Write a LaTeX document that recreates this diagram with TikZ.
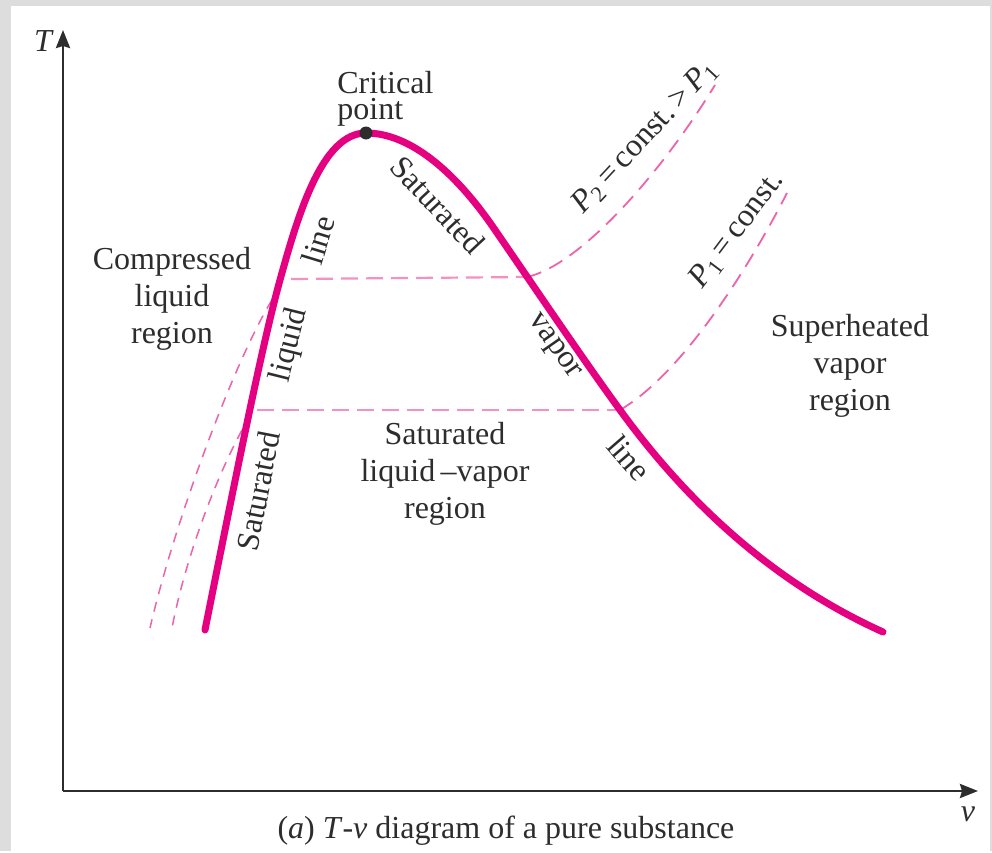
\documentclass[tikz,border=0pt]{standalone}
\usepackage{fontspec}
\setmainfont{Liberation Serif}
\usetikzlibrary{arrows.meta}
\definecolor{domepink}{RGB}{228,0,128}
\definecolor{isopink}{RGB}{236,100,170}
\definecolor{isolight}{RGB}{243,145,195}
\definecolor{framegray}{RGB}{221,221,221}
\definecolor{inkgray}{RGB}{45,45,45}

\begin{document}
\begin{tikzpicture}[
  x=0.5pt, y=-0.5pt,
  font=\fontsize{16}{18.5}\selectfont,
  every node/.style={text=inkgray},
  axis/.style={draw=inkgray, line width=1.2pt, -{Stealth[length=9pt, width=7pt, inset=1pt]}},
  dome/.style={draw=domepink, line width=3.5pt, line cap=round},
  iso/.style={draw=isopink, line width=0.9pt, dash pattern=on 7.5pt off 4.5pt},
  tie/.style={draw=isolight, line width=1.1pt, dash pattern=on 8.5pt off 4pt},
  sub/.style={draw=isopink, line width=0.75pt, dash pattern=on 5pt off 4pt},
  region/.style={align=center, inner sep=0pt},
  along/.style={inner sep=0pt},
]
  % frame
  \fill[framegray] (0,0) rectangle (992,851);
  \fill[white] (11,6) rectangle (990,851);

  % axes
  \coordinate (O) at (63,791);
  \coordinate (Ttip) at (63,30);
  \coordinate (vtip) at (978,791);
  \draw[axis] (O) -- (Ttip);
  \draw[axis] (O) -- (vtip);
  \node (Tlab) at (44,41) {\textit{T}};
  \node (vlab) at (968,814) {\textit{v}};

  % points on the saturation dome
  \coordinate (fb) at (205,630);
  \coordinate (f2) at (280,280);
  \coordinate (cp) at (366,133);
  \coordinate (gm) at (493,227);
  \coordinate (g1) at (620,410);
  \coordinate (gb) at (883,632);
  \coordinate (g2) at (527,277);
  \coordinate (t2) at (291,279);
  \coordinate (t1) at (257,410);

  % isobars (dashed)
  \draw[tie] (t2) -- (g2);
  \draw[tie] (t1) -- (g1);
  \draw[iso] (g2) .. controls (580,265) and (660,175) .. (715,85);
  \draw[iso] (g1) .. controls (680,375) and (745,275) .. (787,193);
  \draw[sub] (272,300) .. controls (235,360) and (175,520) .. (150,628);
  \draw[sub] (242,430) .. controls (215,480) and (185,560) .. (172,628);

  % saturation dome
  \draw[dome] (fb) .. controls (235,480) and (262,345) .. (f2)
    .. controls (298,215) and (322,133) .. (cp)
    .. controls (410,133) and (455,172) .. (gm)
    .. controls (535,288) and (580,355) .. (g1)
    .. controls (700,520) and (790,590) .. (gb);
  \node[circle, fill=inkgray, inner sep=0pt, minimum size=6.5pt] (cpdot) at (cp) {};
  \node[align=left, anchor=north west, inner sep=0pt, font=\fontsize{16}{13}\selectfont] (cplab) at (337,71) {Critical\\point};

  % labels along the dome
  \node[along, rotate=79] (satl) at (258,491) {Saturated};
  \node[along, rotate=76] (liq) at (290,345) {liquid};
  \node[along, rotate=73] (linel) at (318,240) {line};
  \node[along, rotate=-47] (satv) at (438,205) {Saturated};
  \node[along, rotate=-55] (vap) at (553,347) {vapor};
  \node[along, rotate=-49] (linev) at (629,458) {line};

  % isobar labels
  \node[along, rotate=47] (ptwo) at (645,137) {\textit{P}\textsubscript{2}\,=\,const.\,>\,\textit{P}\textsubscript{1}};
  \node[along, rotate=53] (pone) at (737,230) {\textit{P}\textsubscript{1}\,=\,const.};

  % regions
  \node[region] (comp) at (172,299) {Compressed\\liquid\\region};
  \node[region] (wet) at (445,474) {Saturated\\liquid\,--vapor\\region};
  \node[region] (sup) at (850,366) {Superheated\\vapor\\region};

  \node (cap) at (506,831) {(\textit{a}) \textit{T}-\textit{v} diagram of a pure substance};
\end{tikzpicture}
\end{document}
